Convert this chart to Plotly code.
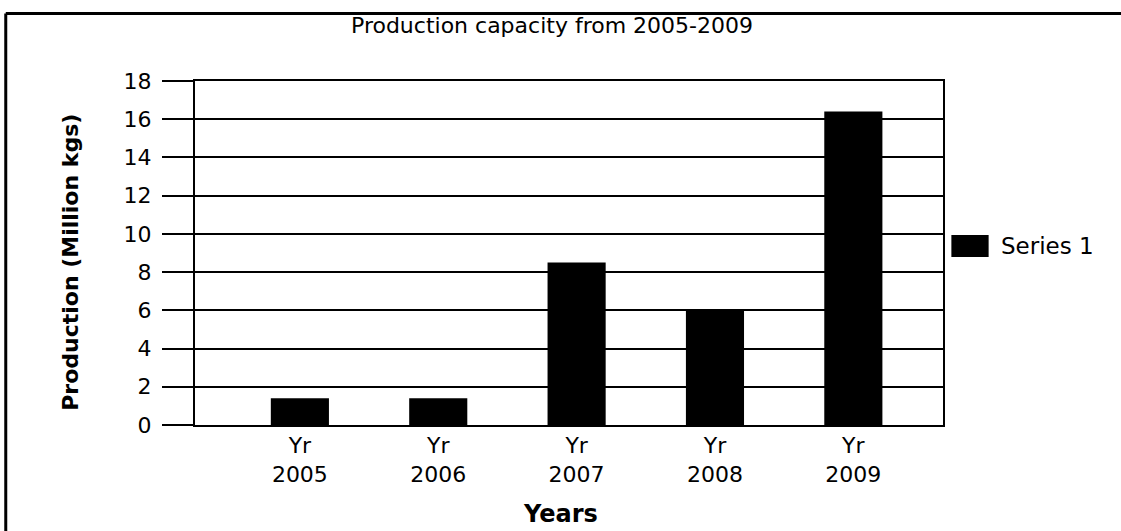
import plotly.graph_objects as go

years = ["2005", "2006", "2007", "2008", "2009"]
tick_labels = ["Yr<br>" + y for y in years]
production = [1.4, 1.4, 8.5, 6.0, 16.4]
series_name = "Series 1"
y_ticks = [0, 2, 4, 6, 8, 10, 12, 14, 16, 18]

FONT = "DejaVu Sans"
xpos = list(range(len(years)))

fig = go.Figure()
fig.add_trace(go.Bar(
    x=xpos, y=production, name=series_name, width=0.42,
    marker=dict(color="black", line=dict(width=0)),
    showlegend=False,
))

fig.update_layout(
    width=1121, height=531,
    margin=dict(l=194.5, r=177.7, t=80.7, b=105.5),
    paper_bgcolor="white", plot_bgcolor="white",
    font=dict(family=FONT, color="black", size=22),
    xaxis=dict(
        range=[-0.758, 4.648], tickvals=xpos, ticktext=tick_labels,
        showline=True, linecolor="black", linewidth=2, mirror=True,
        showgrid=False, ticks="", zeroline=False,
        tickfont=dict(size=22, family=FONT),
        ticklabelstandoff=0,
    ),
    yaxis=dict(
        range=[0, 18], tickvals=y_ticks,
        showline=True, linecolor="black", linewidth=2, mirror=True,
        showgrid=True, gridcolor="black", gridwidth=2,
        ticks="outside", ticklen=31, tickwidth=2, tickcolor="black",
        zeroline=False, tickfont=dict(size=22, family=FONT),
        ticklabelstandoff=6,
    ),
    annotations=[
        dict(text="Production capacity from 2005-2009", xref="paper", yref="paper",
             x=0.477, y=1.1615, showarrow=False, xanchor="center", yanchor="middle",
             font=dict(size=22, family=FONT)),
        dict(text="<b>Production (Million kgs)</b>", xref="paper", yref="paper",
             x=-0.166, y=0.474, showarrow=False, textangle=-90,
             xanchor="center", yanchor="middle", font=dict(size=22, family=FONT)),
        dict(text="<b>Years</b>", xref="paper", yref="paper",
             x=0.488, y=-0.2596, showarrow=False, xanchor="center", yanchor="middle",
             font=dict(size=24, family=FONT)),
        dict(text=series_name, xref="paper", yref="paper",
             x=1.0744, y=0.5206, showarrow=False, xanchor="left", yanchor="middle",
             font=dict(size=23, family=FONT)),
    ],
    shapes=[
        dict(type="rect", xref="paper", yref="paper",
             x0=1.0112, x1=1.0610, y0=0.4887, y1=0.5525,
             fillcolor="black", line=dict(width=0)),
        dict(type="line", xref="paper", yref="paper",
             x0=-0.253, x1=1.3, y0=1.196, y1=1.196,
             line=dict(color="black", width=3)),
        dict(type="line", xref="paper", yref="paper",
             x0=-0.253, x1=-0.253, y0=1.196, y1=-0.35,
             line=dict(color="black", width=3)),
    ],
)

fig.write_html("out.html")
